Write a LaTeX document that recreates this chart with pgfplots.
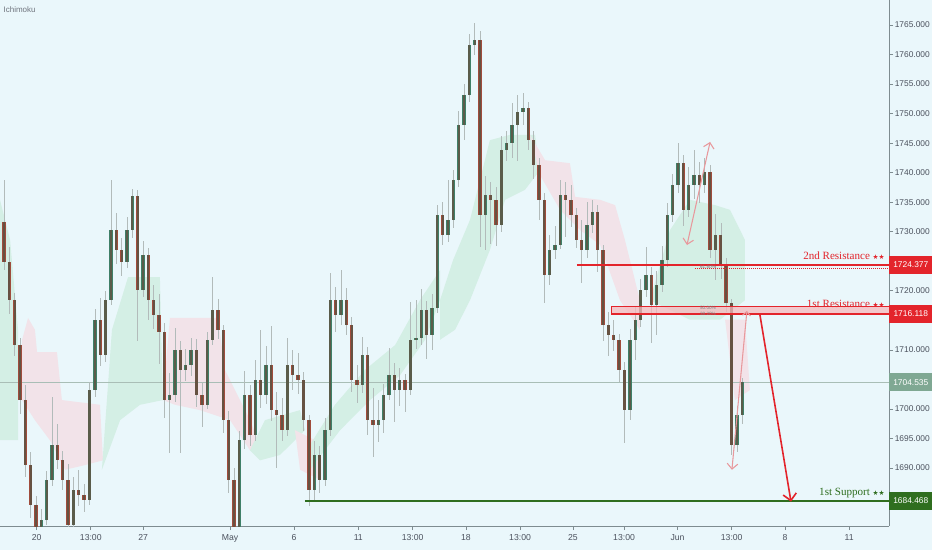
\documentclass[border=0pt]{standalone}
\usepackage{pgfplots}
\pgfplotsset{compat=1.18}
\usepackage{pgfplotstable}
\usepackage{fontspec}
\setmainfont{Liberation Sans}
\newfontfamily\serifl{Liberation Serif}
\newfontfamily\dejavu{DejaVu Sans}
\usetikzlibrary{arrows.meta}
\definecolor{bgc}{HTML}{EAF7FB}
\definecolor{axgray}{HTML}{7E8C90}
\definecolor{labgray}{HTML}{4C525E}
\definecolor{wickc}{HTML}{B2BBBA}
\definecolor{upedge}{HTML}{3F8068}
\definecolor{upfill}{HTML}{5A5C4A}
\definecolor{dnedge}{HTML}{A04C3C}
\definecolor{dnfill}{HTML}{665242}
\definecolor{cgreen}{HTML}{D4EFE5}
\definecolor{cpink}{HTML}{F2E3E9}
\definecolor{resred}{HTML}{E3242B}
\definecolor{zonepink}{HTML}{F5B9BD}
\definecolor{supgreen}{HTML}{2F6E1F}
\definecolor{lastc}{HTML}{A9BEB6}
\definecolor{lastbox}{HTML}{7FA893}
\definecolor{arrowpink}{HTML}{E8989C}

\pgfplotstableread{
x o h l c
-1.5 1731.6 1738.8 1723.5 1724.9
-1.25 1724.9 1727.5 1716.0 1718.4
-1.0 1718.4 1719.6 1708.9 1710.8
-0.75 1710.8 1712.0 1699.2 1701.5
-0.5 1701.5 1704.0 1688.4 1690.5
-0.25 1690.5 1692.7 1681.5 1683.7
0 1683.7 1685.2 1676.5 1677.8
0.25 1677.8 1683.0 1676.8 1681.2
0.5 1681.2 1689.5 1680.3 1688.0
0.75 1688.0 1702.0 1686.9 1693.9
1.0 1693.9 1697.5 1689.8 1691.4
1.25 1691.4 1692.8 1686.2 1688.0
1.5 1688.0 1690.6 1679.0 1680.4
1.75 1680.4 1688.5 1679.6 1686.3
2.0 1686.3 1689.7 1683.5 1685.4
2.25 1685.4 1687.3 1682.6 1684.6
2.5 1684.6 1704.5 1683.8 1703.2
2.75 1703.2 1717.0 1702.1 1715.1
3.0 1715.1 1718.8 1707.3 1709.1
3.25 1709.1 1720.0 1707.9 1718.4
3.5 1718.4 1738.8 1717.6 1730.3
3.75 1730.3 1733.2 1724.6 1726.9
4.0 1726.9 1729.0 1722.5 1724.9
4.25 1724.9 1732.5 1723.8 1730.3
4.5 1730.3 1737.3 1729.0 1736.1
4.75 1736.1 1737.0 1711.5 1720.1
5.0 1720.1 1728.5 1718.9 1726.1
5.25 1726.1 1727.2 1715.0 1718.4
5.5 1718.4 1721.0 1713.5 1715.9
5.75 1715.9 1719.5 1707.6 1713.0
6.0 1713.0 1714.5 1698.5 1701.5
6.25 1701.5 1706.0 1692.5 1702.4
6.5 1702.4 1713.7 1701.2 1710.0
6.75 1710.0 1711.5 1692.6 1706.6
7.0 1706.6 1710.2 1704.8 1707.4
7.25 1707.4 1712.0 1705.5 1710.0
7.5 1710.0 1711.8 1700.4 1702.4
7.75 1702.4 1704.5 1697.0 1700.7
8.0 1700.7 1713.0 1700.0 1711.7
8.25 1711.7 1722.3 1710.9 1716.8
8.5 1716.8 1718.6 1711.9 1713.4
8.75 1713.4 1714.3 1696.0 1698.1
9.0 1698.1 1699.6 1685.8 1688.0
9.25 1688.0 1690.0 1676.0 1677.8
9.5 1677.8 1696.2 1677.0 1694.7
9.75 1694.7 1706.5 1693.2 1702.4
10.0 1702.4 1704.0 1693.8 1695.6
10.25 1695.6 1708.3 1694.6 1704.9
10.5 1704.9 1713.4 1700.1 1702.4
10.75 1702.4 1710.6 1700.8 1707.4
11.0 1707.4 1714.0 1698.0 1699.8
11.25 1699.8 1702.8 1690.0 1699.0
11.5 1699.0 1701.8 1694.5 1696.4
11.75 1696.4 1712.0 1695.5 1707.4
12.0 1707.4 1710.0 1703.2 1705.7
12.25 1705.7 1709.5 1702.6 1704.9
12.5 1704.9 1706.3 1696.2 1698.1
12.75 1698.1 1699.0 1683.5 1686.3
13.0 1686.3 1694.5 1684.6 1692.2
13.25 1692.2 1693.8 1685.7 1688.0
13.5 1688.0 1698.5 1686.9 1696.4
13.75 1696.4 1723.0 1695.5 1718.4
14.0 1718.4 1720.6 1713.0 1715.9
14.25 1715.9 1723.5 1714.3 1718.4
14.5 1718.4 1720.5 1712.6 1714.2
14.75 1714.2 1715.5 1702.8 1704.9
15.0 1704.9 1707.5 1701.0 1704.1
15.25 1704.1 1712.2 1702.7 1709.1
15.5 1709.1 1710.5 1695.6 1698.1
15.75 1698.1 1703.5 1691.9 1697.3
16.0 1697.3 1701.5 1694.4 1698.1
16.25 1698.1 1704.3 1696.0 1702.4
16.5 1702.4 1710.3 1701.5 1705.7
16.75 1705.7 1707.8 1697.8 1703.2
17.0 1703.2 1707.0 1700.5 1704.9
17.25 1704.9 1706.0 1699.5 1703.2
17.5 1703.2 1718.1 1702.3 1711.7
17.75 1711.7 1718.5 1710.1 1712.0
18.0 1712.0 1720.3 1710.8 1716.8
18.25 1716.8 1718.3 1708.5 1712.5
18.5 1712.5 1719.5 1710.0 1717.1
18.75 1717.1 1734.5 1716.2 1732.8
19.0 1732.8 1735.0 1727.8 1729.4
19.25 1729.4 1738.8 1728.3 1732.0
19.5 1732.0 1740.5 1730.7 1738.8
19.75 1738.8 1750.5 1737.5 1748.1
20.0 1748.1 1755.0 1745.5 1753.1
20.25 1753.1 1763.5 1752.0 1761.6
20.5 1761.6 1765.3 1760.0 1762.5
20.75 1762.5 1764.0 1727.4 1732.8
21.0 1732.8 1739.5 1726.9 1736.2
21.25 1736.2 1738.5 1728.0 1735.4
21.5 1735.4 1737.5 1727.5 1731.1
21.75 1731.1 1746.2 1730.0 1743.8
22.0 1743.8 1747.0 1742.0 1745.0
22.25 1745.0 1751.8 1742.5 1748.1
22.5 1748.1 1753.1 1742.0 1750.3
22.75 1750.3 1753.5 1748.0 1750.9
23.0 1750.9 1752.0 1743.8 1745.5
23.25 1745.5 1747.0 1739.0 1741.3
23.5 1741.3 1742.5 1732.0 1735.4
23.75 1735.4 1736.6 1717.9 1722.7
24.0 1722.7 1729.5 1721.0 1726.9
24.25 1726.9 1731.0 1725.3 1727.7
24.5 1727.7 1738.8 1727.0 1736.2
24.75 1736.2 1738.5 1729.1 1735.4
25.0 1735.4 1738.0 1730.8 1732.8
25.25 1732.8 1734.0 1727.2 1728.6
25.5 1728.6 1732.0 1721.3 1726.9
25.75 1726.9 1735.0 1725.5 1731.1
26.0 1731.1 1735.3 1729.7 1733.3
26.25 1733.3 1734.6 1723.2 1726.9
26.5 1726.9 1727.8 1711.5 1714.2
26.75 1714.2 1716.5 1709.0 1712.5
27.0 1712.5 1715.0 1709.8 1711.7
27.25 1711.7 1712.7 1704.6 1706.6
27.5 1706.6 1708.0 1694.2 1699.8
27.75 1699.8 1713.5 1698.2 1711.7
28.0 1711.7 1717.3 1708.3 1715.1
28.25 1715.1 1722.0 1713.8 1720.1
28.5 1720.1 1727.4 1718.9 1722.7
28.75 1722.7 1724.0 1711.1 1717.6
29.0 1717.6 1723.3 1712.5 1721.0
29.25 1721.0 1727.5 1719.8 1725.2
29.5 1725.2 1734.8 1724.0 1732.8
29.75 1732.8 1739.7 1731.6 1737.9
30.0 1737.9 1745.0 1736.5 1741.6
30.25 1741.6 1743.0 1731.0 1733.7
30.5 1733.7 1741.0 1732.5 1737.9
30.75 1737.9 1743.8 1735.6 1739.6
31.0 1739.6 1741.8 1734.9 1737.9
31.25 1737.9 1742.5 1736.5 1740.1
31.5 1740.1 1741.3 1725.5 1726.9
31.75 1726.9 1733.0 1721.8 1729.4
32.0 1729.4 1731.5 1722.0 1724.4
32.25 1724.4 1725.6 1716.5 1717.9
32.5 1717.9 1718.7 1692.2 1693.9
32.75 1693.9 1700.5 1692.8 1699.0
33.0 1699.0 1705.3 1697.5 1704.5
}\candles

\pgfplotsset{
  candle/.style 2 args={draw=none, mark=none, forget plot,
    error bars/.cd, y dir=both, y explicit, error mark=none,
    error bar style={draw=#1, line width=#2, solid}, /pgfplots/.cd},
}

\begin{document}
\begin{tikzpicture}
\fill[bgc] (0,0) rectangle (699pt,412.5pt);
\begin{axis}[
  at={(0pt,18pt)}, anchor=south west,
  scale only axis, width=666.75pt, height=394.5pt,
  xmin=-1.682, xmax=39.86, ymin=1680.18, ymax=1769.23,
  axis x line*=bottom, axis y line*=right,
  axis line style={draw=axgray, line width=0.7pt},
  tick style={draw=axgray, line width=0.5pt},
  tick align=outside, major tick length=3pt,
  xtick={0.03,2.56,5.01,9.07,12.06,15.06,17.6,20.09,22.62,25.09,27.48,29.98,32.51,35.0,38.0},
  xticklabels={20,13:00,27,May,6,11,13:00,18,13:00,25,13:00,Jun,13:00,8,11},
  ytick={1690,1695,1700,1710,1720,1730,1735,1740,1745,1750,1755,1760,1765},
  yticklabels={1690.000,1695.000,1700.000,1710.000,1720.000,1730.000,1735.000,1740.000,1745.000,1750.000,1755.000,1760.000,1765.000},
  x tick label style={font=\fontsize{6.5}{8}\selectfont, text=labgray},
  y tick label style={font=\fontsize{6.3}{8}\selectfont, text=labgray, xshift=-2.2pt},
  axis background/.style={fill=bgc},
]
% Ichimoku cloud
\addplot[fill=cgreen, draw=none, forget plot] coordinates {(-1.8,1737.1) (-1.21,1728.6) (-0.84,1713.4) (-0.84,1694.7) (-1.8,1694.7)} --cycle;
\addplot[fill=cpink, draw=none, forget plot] coordinates {(-0.65,1711.7) (-0.37,1715.4) (-0.05,1713.4) (0.05,1709.6) (0.98,1709.6) (1.21,1701.5) (2.99,1700.7) (3.13,1691.3) (2.29,1690.5) (1.36,1689.7) (0.65,1694.7) (-0.05,1698.1) (-0.65,1701.5)} --cycle;
\addplot[fill=cgreen, draw=none, forget plot] coordinates {(3.08,1689.7) (3.55,1713.4) (4.30,1722.3) (5.79,1722.3) (5.93,1701.5) (4.86,1700.7) (3.93,1698.1)} --cycle;
\addplot[fill=cpink, draw=none, forget plot] coordinates {(5.93,1701.5) (6.26,1715.4) (8.50,1715.4) (8.83,1706.6) (10.0,1698.1) (10.56,1693.0) (10.0,1693.0) (9.07,1698.1) (7.66,1699.8) (6.50,1700.7)} --cycle;
\addplot[fill=cgreen, draw=none, forget plot] coordinates {(10.0,1693.0) (10.70,1698.1) (12.34,1699.8) (12.57,1696.4) (11.40,1692.2) (10.47,1691.3)} --cycle;
\addplot[fill=cpink, draw=none, forget plot] coordinates {(12.10,1696.4) (13.04,1694.7) (13.27,1688.0) (12.34,1689.7)} --cycle;
\addplot[fill=cgreen, draw=none, forget plot] coordinates {(12.80,1689.7) (14.21,1696.4) (15.61,1701.5) (17.01,1705.7) (18.18,1711.7) (18.88,1718.4) (18.88,1723.5) (17.94,1718.4) (16.78,1710.8) (15.37,1706.6) (13.97,1700.7) (12.80,1693.9)} --cycle;
\addplot[fill=cgreen, draw=none, forget plot] coordinates {(18.88,1718.4) (19.49,1725.2) (20.28,1732.0) (21.21,1745.5) (22.15,1746.4) (23.32,1746.4) (23.55,1740.4) (22.85,1737.1) (21.92,1735.4) (21.21,1726.9) (20.28,1718.4) (19.58,1713.4) (18.88,1711.7)} --cycle;
\addplot[fill=cpink, draw=none, forget plot] coordinates {(23.08,1746.4) (23.79,1742.1) (24.95,1741.6) (25.19,1735.9) (26.36,1735.4) (27.06,1734.5) (27.52,1728.6) (28.22,1718.4) (28.22,1713.4) (27.29,1718.4) (26.36,1727.8) (25.42,1730.3) (24.49,1733.7) (23.55,1739.6)} --cycle;
\addplot[fill=cgreen, draw=none, forget plot] coordinates {(28.69,1718.4) (29.63,1730.3) (30.56,1735.4) (31.73,1734.5) (32.43,1733.7) (33.13,1728.6) (33.13,1718.4) (31.96,1715.1) (30.56,1715.1)} --cycle;
\addplot[fill=cpink, draw=none, forget plot] coordinates {(32.2,1715.1) (33.13,1715.1) (33.36,1703.2) (32.66,1701.5)} --cycle;

% last price line
\addplot[lastc, line width=0.6pt, forget plot] coordinates {(-1.8,1704.535) (40,1704.535)};

% wicks
\addplot[candle={wickc}{0.45pt}]
  table[x=x, y expr={(\thisrow{h}+\thisrow{l})/2}, y error expr={(\thisrow{h}-\thisrow{l})/2}] {\candles};
% up bodies
\addplot[y filter/.expression={\thisrow{c}>=\thisrow{o} ? y : nan}, candle={upedge}{2.5pt}]
  table[x=x, y expr={(\thisrow{o}+\thisrow{c})/2}, y error expr={abs(\thisrow{c}-\thisrow{o})/2}] {\candles};
\addplot[y filter/.expression={\thisrow{c}>=\thisrow{o} ? y : nan}, candle={upfill}{1.6pt}]
  table[x=x, y expr={(\thisrow{o}+\thisrow{c})/2}, y error expr={abs(\thisrow{c}-\thisrow{o})/2}] {\candles};
% down bodies
\addplot[y filter/.expression={\thisrow{c}<\thisrow{o} ? y : nan}, candle={dnedge}{2.5pt}]
  table[x=x, y expr={(\thisrow{o}+\thisrow{c})/2}, y error expr={abs(\thisrow{c}-\thisrow{o})/2}] {\candles};
\addplot[y filter/.expression={\thisrow{c}<\thisrow{o} ? y : nan}, candle={dnfill}{1.6pt}]
  table[x=x, y expr={(\thisrow{o}+\thisrow{c})/2}, y error expr={abs(\thisrow{c}-\thisrow{o})/2}] {\candles};

% resistance / support levels
\addplot[resred, line width=1.3pt, forget plot] coordinates {(25.28,1724.377) (40,1724.377)};
\addplot[resred, line width=0.5pt, densely dotted, forget plot] coordinates {(30.8,1723.8) (40,1723.8)};
\addplot[fill=zonepink, fill opacity=0.75, draw=resred, line width=0.5pt, forget plot] coordinates {(26.87,1716.0) (40,1716.0) (40,1717.45) (26.87,1717.45)} --cycle;
\addplot[resred, line width=1.3pt, forget plot] coordinates {(26.87,1716.118) (40,1716.118)};
\addplot[supgreen, line width=1.3pt, forget plot] coordinates {(12.57,1684.468) (40,1684.468)};

% arrows
\addplot[arrowpink, line width=0.8pt, {Straight Barb[length=4pt,width=8pt]}-{Straight Barb[length=4pt,width=8pt]}, forget plot] coordinates {(30.42,1727.75) (31.5,1745.2)};
\addplot[arrowpink, line width=0.8pt, {Straight Barb[length=4pt,width=8pt]}-{Straight Barb[length=3pt,width=6pt]}, forget plot] coordinates {(32.52,1689.7) (33.22,1716.6)};
\addplot[resred, line width=1.2pt, -{Straight Barb[length=5pt,width=10pt]}, forget plot] coordinates {(33.83,1715.9) (35.28,1684.3)};

\coordinate (L1) at (axis cs:39.86,1724.377);
\coordinate (L2) at (axis cs:39.86,1716.118);
\coordinate (L3) at (axis cs:39.86,1704.535);
\coordinate (L4) at (axis cs:39.86,1684.468);
\coordinate (T1) at (axis cs:39.67,1725.9);
\coordinate (T2) at (axis cs:39.67,1717.85);
\coordinate (T3) at (axis cs:39.67,1685.8);
\coordinate (F1) at (axis cs:31.4,1724.05);
\coordinate (F2) at (axis cs:31.4,1717.1);
\coordinate (F3) at (axis cs:31.4,1716.1);
\end{axis}

\begin{scope}[every node/.style={inner sep=0pt, font=\fontsize{6.3}{8}\selectfont}]
\node[anchor=west, fill=resred, text=white, minimum width=32.25pt, minimum height=13.5pt] at (L1) {1724.377};
\node[anchor=west, fill=resred, text=white, minimum width=32.25pt, minimum height=13.5pt] at (L2) {1716.118};
\node[anchor=west, fill=lastbox, text=white, minimum width=32.25pt, minimum height=13.5pt] at (L3) {1704.535};
\node[anchor=west, fill=supgreen, text=white, minimum width=32.25pt, minimum height=13.5pt] at (L4) {1684.468};
\end{scope}
\node[anchor=east, inner sep=0pt, text=resred, font=\serifl\fontsize{8.3}{9}\selectfont] at (T1) {2nd Resistance {\dejavu\fontsize{5}{6}\selectfont ★★}};
\node[anchor=east, inner sep=0pt, text=resred, font=\serifl\fontsize{8.3}{9}\selectfont] at (T2) {1st Resistance {\dejavu\fontsize{5}{6}\selectfont ★★}};
\node[anchor=east, inner sep=0pt, text=supgreen, font=\serifl\fontsize{8.3}{9}\selectfont] at (T3) {1st Support {\dejavu\fontsize{5}{6}\selectfont ★★}};
\node[inner sep=0pt, text=gray, font=\fontsize{3.5}{4}\selectfont] at (F1) {61.80\%};
\node[inner sep=0pt, text=gray, font=\fontsize{3.5}{4}\selectfont] at (F2) {50.00\%};
\node[inner sep=0pt, text=gray, font=\fontsize{3.5}{4}\selectfont] at (F3) {38.20\%};
\node[anchor=west, inner sep=0pt, text=labgray!80, font=\fontsize{6}{7}\selectfont] at (2.5pt,405pt) {Ichimoku};
\pgfresetboundingbox
\path[use as bounding box] (0,0) rectangle (699pt,412.5pt);
\end{tikzpicture}
\end{document}
